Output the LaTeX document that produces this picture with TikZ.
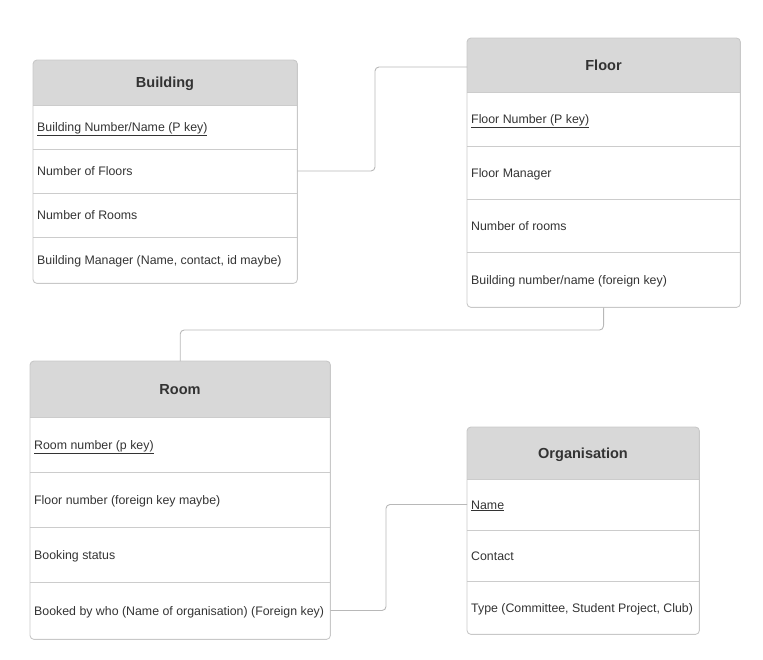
\documentclass[tikz,border=0pt]{standalone}
\usepackage{fontspec}
\setmainfont{Liberation Sans}
\definecolor{bordergray}{HTML}{C8C8C8}
\definecolor{sepgray}{HTML}{CCCCCC}
\definecolor{hdrgray}{HTML}{D8D8D8}
\definecolor{conngray}{HTML}{B8B8B8}
\definecolor{txt}{HTML}{333333}
\tikzset{
  tblbox/.style={draw=none, inner sep=0, anchor=north west},
  tblborder/.style={draw=bordergray, line width=0.9bp, rounded corners=4bp},
  hdrtext/.style={anchor=base, yshift=-5.3bp, font=\fontsize{14.6}{17}\selectfont\bfseries, text=txt, inner sep=0},
  rowtext/.style={anchor=base west, yshift=-4.5bp, font=\fontsize{12.4}{14}\selectfont, text=txt, inner sep=0},
  sepline/.style={draw=sepgray, line width=0.9bp},
  conn/.style={draw=conngray, line width=0.9bp, rounded corners=4bp},
}
\newcommand\hdrfill[3]{% node, header bottom y, row separators
  \begin{scope}
    \clip[rounded corners=4bp] (#1.north west) rectangle (#1.south east);
    \fill[hdrgray] (#1.north west) rectangle (#1.east |- 0,#2);
  \end{scope}
  \draw[sepline] (#1.west |- 0,#2) -- (#1.east |- 0,#2);
  \foreach \yy in {#3} {\draw[sepline] (#1.west |- 0,\yy) -- (#1.east |- 0,\yy);}
  \draw[tblborder] (#1.north west) rectangle (#1.south east);
}
\begin{document}
\begin{tikzpicture}[x=1bp,y=-1bp]
\useasboundingbox (0,0) rectangle (763,660);

% Building
\node[tblbox, minimum width=264bp, minimum height=223bp] (building) at (33,60) {};
\hdrfill{building}{105}{149,193,237}
\node[hdrtext] (bh) at (165,82.5) {Building};
\node[rowtext] (b1) at (37,127) {\underline{Building Number/Name (P key)}};
\node[rowtext] (b2) at (37,171) {Number of Floors};
\node[rowtext] (b3) at (37,215) {Number of Rooms};
\node[rowtext] (b4) at (37,260) {Building Manager (Name, contact, id maybe)};

% Floor
\node[tblbox, minimum width=273bp, minimum height=269bp] (floor) at (467,38) {};
\hdrfill{floor}{92}{146,199,252}
\node[hdrtext] (fh) at (603.5,65) {Floor};
\node[rowtext] (f1) at (471,119) {\underline{Floor Number (P key)}};
\node[rowtext] (f2) at (471,172.5) {Floor Manager};
\node[rowtext] (f3) at (471,225.5) {Number of rooms};
\node[rowtext] (f4) at (471,279.5) {Building number/name (foreign key)};

% Room
\node[tblbox, minimum width=300bp, minimum height=278bp] (room) at (30,361) {};
\hdrfill{room}{417}{472,527,582}
\node[hdrtext] (rh) at (180,389) {Room};
\node[rowtext] (r1) at (34,444.5) {\underline{Room number (p key)}};
\node[rowtext] (r2) at (34,499.5) {Floor number (foreign key maybe)};
\node[rowtext] (r3) at (34,555) {Booking status};
\node[rowtext] (r4) at (34,610.5) {Booked by who (Name of organisation) (Foreign key)};

% Organisation
\node[tblbox, minimum width=232bp, minimum height=207bp] (org) at (467,427) {};
\hdrfill{org}{479}{530,581}
\node[hdrtext] (oh) at (583,453) {Organisation};
\node[rowtext] (o1) at (471,504.5) {\underline{Name}};
\node[rowtext] (o2) at (471,555.5) {Contact};
\node[rowtext] (o3) at (471,607.5) {Type (Committee, Student Project, Club)};

% Connectors
\coordinate (c1) at (375,171);
\draw[conn] (building.east |- 0,171) -- (c1) |- (floor.west |- 0,67);
\coordinate (c2) at (603.5,330);
\draw[conn] (floor.south) -- (c2) -| (room.north);
\coordinate (c3) at (386,610.5);
\draw[conn] (room.east |- 0,610.5) -- (c3) |- (org.west |- 0,504.5);
\end{tikzpicture}
\end{document}
